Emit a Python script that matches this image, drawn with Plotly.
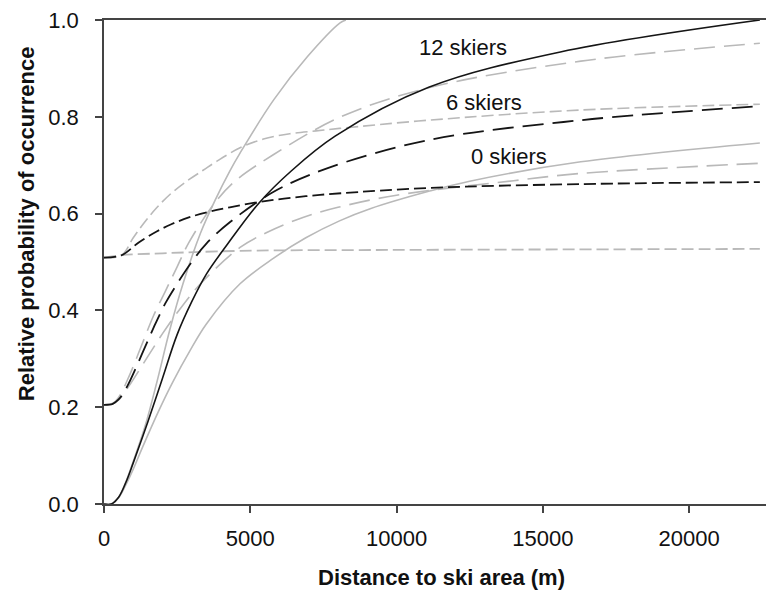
import plotly.graph_objects as go

# ---- data ----
ski12_x = [0, 250, 500, 750, 1000, 1500, 2000, 2500, 3000, 3500, 4200, 5300, 6400, 7900, 11100, 15600, 22420]
ski12_y = [0, 0, 0.014, 0.045, 0.085, 0.17, 0.26, 0.35, 0.418, 0.475, 0.535, 0.622, 0.688, 0.76, 0.861, 0.934, 1.0]

ski12_up_x = [0, 250, 500, 750, 1000, 1400, 1800, 2250, 2700, 3300, 3800, 4300, 4650, 5800, 6950, 8070, 8270]
ski12_up_y = [0, 0, 0.014, 0.046, 0.088, 0.16, 0.25, 0.36, 0.455, 0.56, 0.628, 0.688, 0.725, 0.835, 0.924, 0.994, 1.0]

ski12_lo_x = [0, 250, 500, 750, 1000, 1300, 1850, 2350, 2950, 3500, 4650, 5800, 6900, 8050, 9100, 11100, 12500, 16300, 22420]
ski12_lo_y = [0, 0, 0.013, 0.04, 0.072, 0.115, 0.19, 0.252, 0.318, 0.372, 0.455, 0.508, 0.55, 0.585, 0.61, 0.646, 0.667, 0.707, 0.746]

ski6_x = [0, 300, 500, 700, 900, 1300, 1700, 2100, 2500, 3000, 3500, 4300, 5800, 7600, 11100, 16300, 22420]
ski6_y = [0.205, 0.207, 0.216, 0.233, 0.256, 0.31, 0.365, 0.415, 0.455, 0.5, 0.538, 0.582, 0.645, 0.693, 0.752, 0.793, 0.822]

ski6_up_x = [0, 300, 500, 900, 1300, 1700, 2100, 2500, 2900, 3700, 4400, 5800, 8100, 11100, 16300, 22420]
ski6_up_y = [0.205, 0.208, 0.22, 0.27, 0.33, 0.39, 0.44, 0.49, 0.54, 0.615, 0.663, 0.722, 0.80, 0.86, 0.915, 0.952]

ski6_lo_x = [0, 300, 500, 900, 1500, 2000, 2500, 3300, 4650, 5600, 6800, 8000, 10000, 14000, 16300, 22420]
ski6_lo_y = [0.205, 0.207, 0.215, 0.248, 0.305, 0.352, 0.395, 0.455, 0.53, 0.562, 0.592, 0.613, 0.638, 0.668, 0.683, 0.704]

ski0_x = [0, 600, 1200, 1800, 2300, 2900, 3600, 4300, 5300, 6900, 8100, 11100, 16300, 22420]
ski0_y = [0.509, 0.514, 0.541, 0.563, 0.578, 0.592, 0.604, 0.613, 0.624, 0.636, 0.642, 0.653, 0.661, 0.665]

ski0_up_x = [0, 600, 1000, 1400, 1800, 2300, 2900, 3400, 3850, 4650, 5450, 6350, 7250, 8050, 11100, 16300, 22420]
ski0_up_y = [0.509, 0.514, 0.55, 0.583, 0.612, 0.642, 0.67, 0.69, 0.708, 0.736, 0.754, 0.765, 0.771, 0.776, 0.793, 0.814, 0.826]

ski0_lo_x = [0, 600, 2000, 4650, 10000, 16000, 22420]
ski0_lo_y = [0.509, 0.514, 0.518, 0.523, 0.525, 0.526, 0.527]

labels = ["12 skiers", "6 skiers", "0 skiers"]
label_x = [12270, 12990, 13845]
label_y = [0.944, 0.829, 0.717]

x_ticks = [0, 5000, 10000, 15000, 20000]
y_ticks = [0.0, 0.2, 0.4, 0.6, 0.8, 1.0]

# ---- styles ----
BLACK = "#151515"
GRAY = "#b9b9b9"
LONG = "21px,9px"
SHORT = "12px,5px"
FONT = "Liberation Sans, Arial, sans-serif"

fig = go.Figure()

def add(x, y, color, dash, width=1.6):
    fig.add_trace(go.Scatter(x=x, y=y, mode="lines",
                             line=dict(color=color, dash=dash, width=width, shape="spline", smoothing=1.0),
                             hoverinfo="skip", showlegend=False))

# gray confidence curves first
add(ski12_up_x, ski12_up_y, GRAY, "solid")
add(ski12_lo_x, ski12_lo_y, GRAY, "solid")
add(ski6_up_x, ski6_up_y, GRAY, LONG)
add(ski6_lo_x, ski6_lo_y, GRAY, LONG)
add(ski0_up_x, ski0_up_y, GRAY, SHORT)
add(ski0_lo_x, ski0_lo_y, GRAY, SHORT, 1.8)
# black fitted curves
add(ski12_x, ski12_y, BLACK, "solid")
add(ski6_x, ski6_y, BLACK, LONG, 1.8)
add(ski0_x, ski0_y, BLACK, SHORT, 1.8)

for t, xx, yy in zip(labels, label_x, label_y):
    fig.add_annotation(x=xx, y=yy, text=t, showarrow=False,
                       font=dict(family=FONT, size=22, color="#111"))

axis_common = dict(showgrid=False, zeroline=False, showline=True, linecolor="#444",
                   linewidth=1.5, ticks="outside", ticklen=7, tickwidth=1.5, tickcolor="#444",
                   tickfont=dict(family=FONT, size=22, color="#111"))

fig.update_xaxes(range=[0, 22630], tickvals=x_ticks, ticktext=[str(v) for v in x_ticks],
                 mirror=True, ticklabelstandoff=7, **axis_common)
fig.update_yaxes(range=[0, 1.0], tickvals=y_ticks, ticktext=[f"{v:.1f}" for v in y_ticks],
                 ticklabelstandoff=12, **axis_common)

fig.add_annotation(xref="paper", yref="paper", x=0.51, y=-0.152, yanchor="middle",
                   text="<b>Distance to ski area (m)</b>", showarrow=False,
                   font=dict(family=FONT, size=22, color="#111"))
fig.add_annotation(xref="paper", yref="paper", x=-0.118, xanchor="center", y=0.58,
                   text="<b>Relative probability of occurrence</b>", textangle=-90, showarrow=False,
                   font=dict(family=FONT, size=22, color="#111"))

fig.update_layout(width=766, height=590, margin=dict(l=104, r=0, t=20, b=86),
                  paper_bgcolor="white", plot_bgcolor="white")

fig.write_html("out.html")
